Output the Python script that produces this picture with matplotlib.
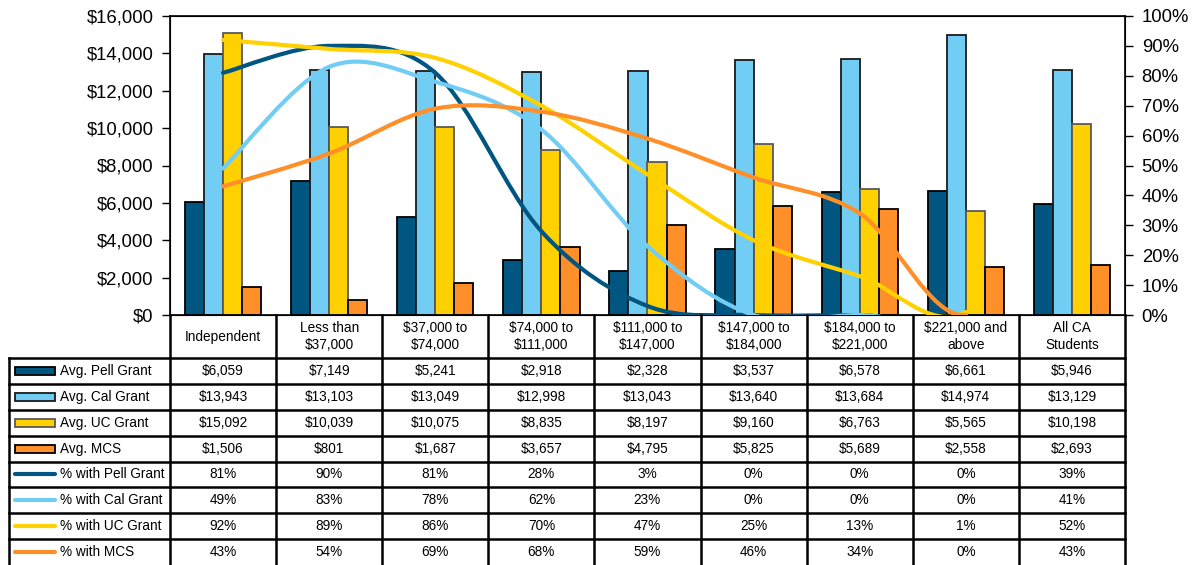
import numpy as np
import matplotlib.pyplot as plt
from matplotlib.path import Path
from matplotlib.patches import PathPatch, Rectangle
from matplotlib.ticker import StrMethodFormatter, PercentFormatter

plt.rcParams['font.family'] = ['Liberation Sans', 'DejaVu Sans']
plt.rcParams['text.parse_math'] = False

categories = ["Independent", "Less than\n$37,000", "$37,000 to\n$74,000",
              "$74,000 to\n$111,000", "$111,000 to\n$147,000", "$147,000 to\n$184,000",
              "$184,000 to\n$221,000", "$221,000 and\nabove", "All CA\nStudents"]

avg_pell = [6059, 7149, 5241, 2918, 2328, 3537, 6578, 6661, 5946]
avg_cal = [13943, 13103, 13049, 12998, 13043, 13640, 13684, 14974, 13129]
avg_uc = [15092, 10039, 10075, 8835, 8197, 9160, 6763, 5565, 10198]
avg_mcs = [1506, 801, 1687, 3657, 4795, 5825, 5689, 2558, 2693]

pct_pell = [81, 90, 81, 28, 3, 0, 0, 0, 39]
pct_cal = [49, 83, 78, 62, 23, 0, 0, 0, 41]
pct_uc = [92, 89, 86, 70, 47, 25, 13, 1, 52]
pct_mcs = [43, 54, 69, 68, 59, 46, 34, 0, 43]

bar_series = [
    ("Avg. Pell Grant", avg_pell, "#005581", "black"),
    ("Avg. Cal Grant", avg_cal, "#72CDF4", "#1a1a1a"),
    ("Avg. UC Grant", avg_uc, "#FFD100", "#595959"),
    ("Avg. MCS", avg_mcs, "#FF8F28", "black"),
]
line_series = [
    ("% with Pell Grant", pct_pell, "#005581"),
    ("% with Cal Grant", pct_cal, "#72CDF4"),
    ("% with UC Grant", pct_uc, "#FFD100"),
    ("% with MCS", pct_mcs, "#FF8F28"),
]
n_seg = 7  # last segment (to "All CA Students") is not drawn


def smooth_path(x, y, nseg):
    # Excel-style smoothed line (Catmull-Rom as cubic Bezier)
    pts = np.column_stack([x, y]).astype(float)
    ext = np.vstack([pts[0], pts, pts[-1]])
    verts = [pts[0]]
    codes = [Path.MOVETO]
    for i in range(nseg):
        p0, p1, p2, p3 = ext[i], ext[i + 1], ext[i + 2], ext[i + 3]
        verts += [p1 + (p2 - p0) / 6, p2 - (p3 - p1) / 6, p2]
        codes += [Path.CURVE4] * 3
    return Path(verts, codes)


W, H = 1198, 565
fig = plt.figure(figsize=(W / 100, H / 100), dpi=100)

left, right, top, bottom = 170, 1125, 16, 315
ax = fig.add_axes([left / W, (H - bottom) / H, (right - left) / W, (bottom - top) / H])
x = np.arange(len(categories))
bw = 0.18
for k, (name, vals, col, ec) in enumerate(bar_series):
    ax.bar(x + (k - 1.5) * bw, vals, bw, color=col, edgecolor=ec, linewidth=1.3, zorder=2)

ax.set_xlim(-0.5, len(categories) - 0.5)
ax.set_ylim(0, 16000)
ax.set_yticks(np.arange(0, 16001, 2000))
ax.yaxis.set_major_formatter(StrMethodFormatter("${x:,.0f}"))
ax.set_xticks([])
ax.tick_params(axis='y', labelsize=13.3, length=6, width=1, direction='out', pad=6)
for s in ax.spines.values():
    s.set_linewidth(1.2)

ax2 = ax.twinx()
ax2.set_ylim(0, 100)
ax2.set_yticks(np.arange(0, 101, 10))
ax2.yaxis.set_major_formatter(PercentFormatter(100, decimals=0))
ax2.tick_params(axis='y', labelsize=13.3, length=6, width=1, direction='out', pad=6)
for name, vals, col in line_series:
    p = smooth_path(x, vals, n_seg)
    ax2.add_patch(PathPatch(p, fill=False, edgecolor=col, linewidth=3.0,
                            capstyle='round', joinstyle='round', zorder=3))

# data table below the plot
unit = (right - left) / len(categories)
tl = 9
x_left = -0.5 - (left - tl) / unit
tab = fig.add_axes([tl / W, 0, (right - tl) / W, (H - bottom) / H])
tab.set_xlim(x_left, len(categories) - 0.5)
tab.set_ylim(0, H - bottom)
tab.axis('off')

hdr_top = H - bottom
hdr_bot = hdr_top - 43
rh = hdr_bot / 8
lw = 1.8
fs = 9.8

for i, c in enumerate(categories):
    tab.text(i, (hdr_top + hdr_bot) / 2, c, ha='center', va='center', fontsize=fs,
             linespacing=1.3)

rows = []
for name, vals, col, ec in bar_series:
    rows.append((name, [f"${v:,}" for v in vals], 'bar', col, ec))
for name, vals, col in line_series:
    rows.append((name, [f"{v}%" for v in vals], 'line', col, None))

for r, (name, cells, kind, col, ec) in enumerate(rows):
    yc = hdr_bot - (r + 0.5) * rh
    kx = x_left + 6 / unit
    if kind == 'bar':
        tab.add_patch(Rectangle((kx, yc - 4), 40 / unit, 8, facecolor=col,
                                edgecolor=ec, linewidth=1.3, clip_on=False))
    else:
        tab.plot([kx, kx + 40 / unit], [yc, yc], color=col, linewidth=3.0,
                 solid_capstyle='round', clip_on=False)
    tab.text(x_left + 51 / unit, yc, name, ha='left', va='center', fontsize=fs)
    for i, t in enumerate(cells):
        tab.text(i, yc, t, ha='center', va='center', fontsize=fs)

# grid lines
for r in range(8):
    yb = hdr_bot - r * rh
    tab.plot([x_left, len(categories) - 0.5], [yb, yb], color='black', lw=lw, clip_on=False)
for k in range(len(categories) + 1):
    xv = k - 0.5
    tab.plot([xv, xv], [0, hdr_top], color='black', lw=lw, clip_on=False)
tab.plot([x_left, x_left], [0, hdr_bot], color='black', lw=lw, clip_on=False)

fig.savefig("out.png", dpi=100)
